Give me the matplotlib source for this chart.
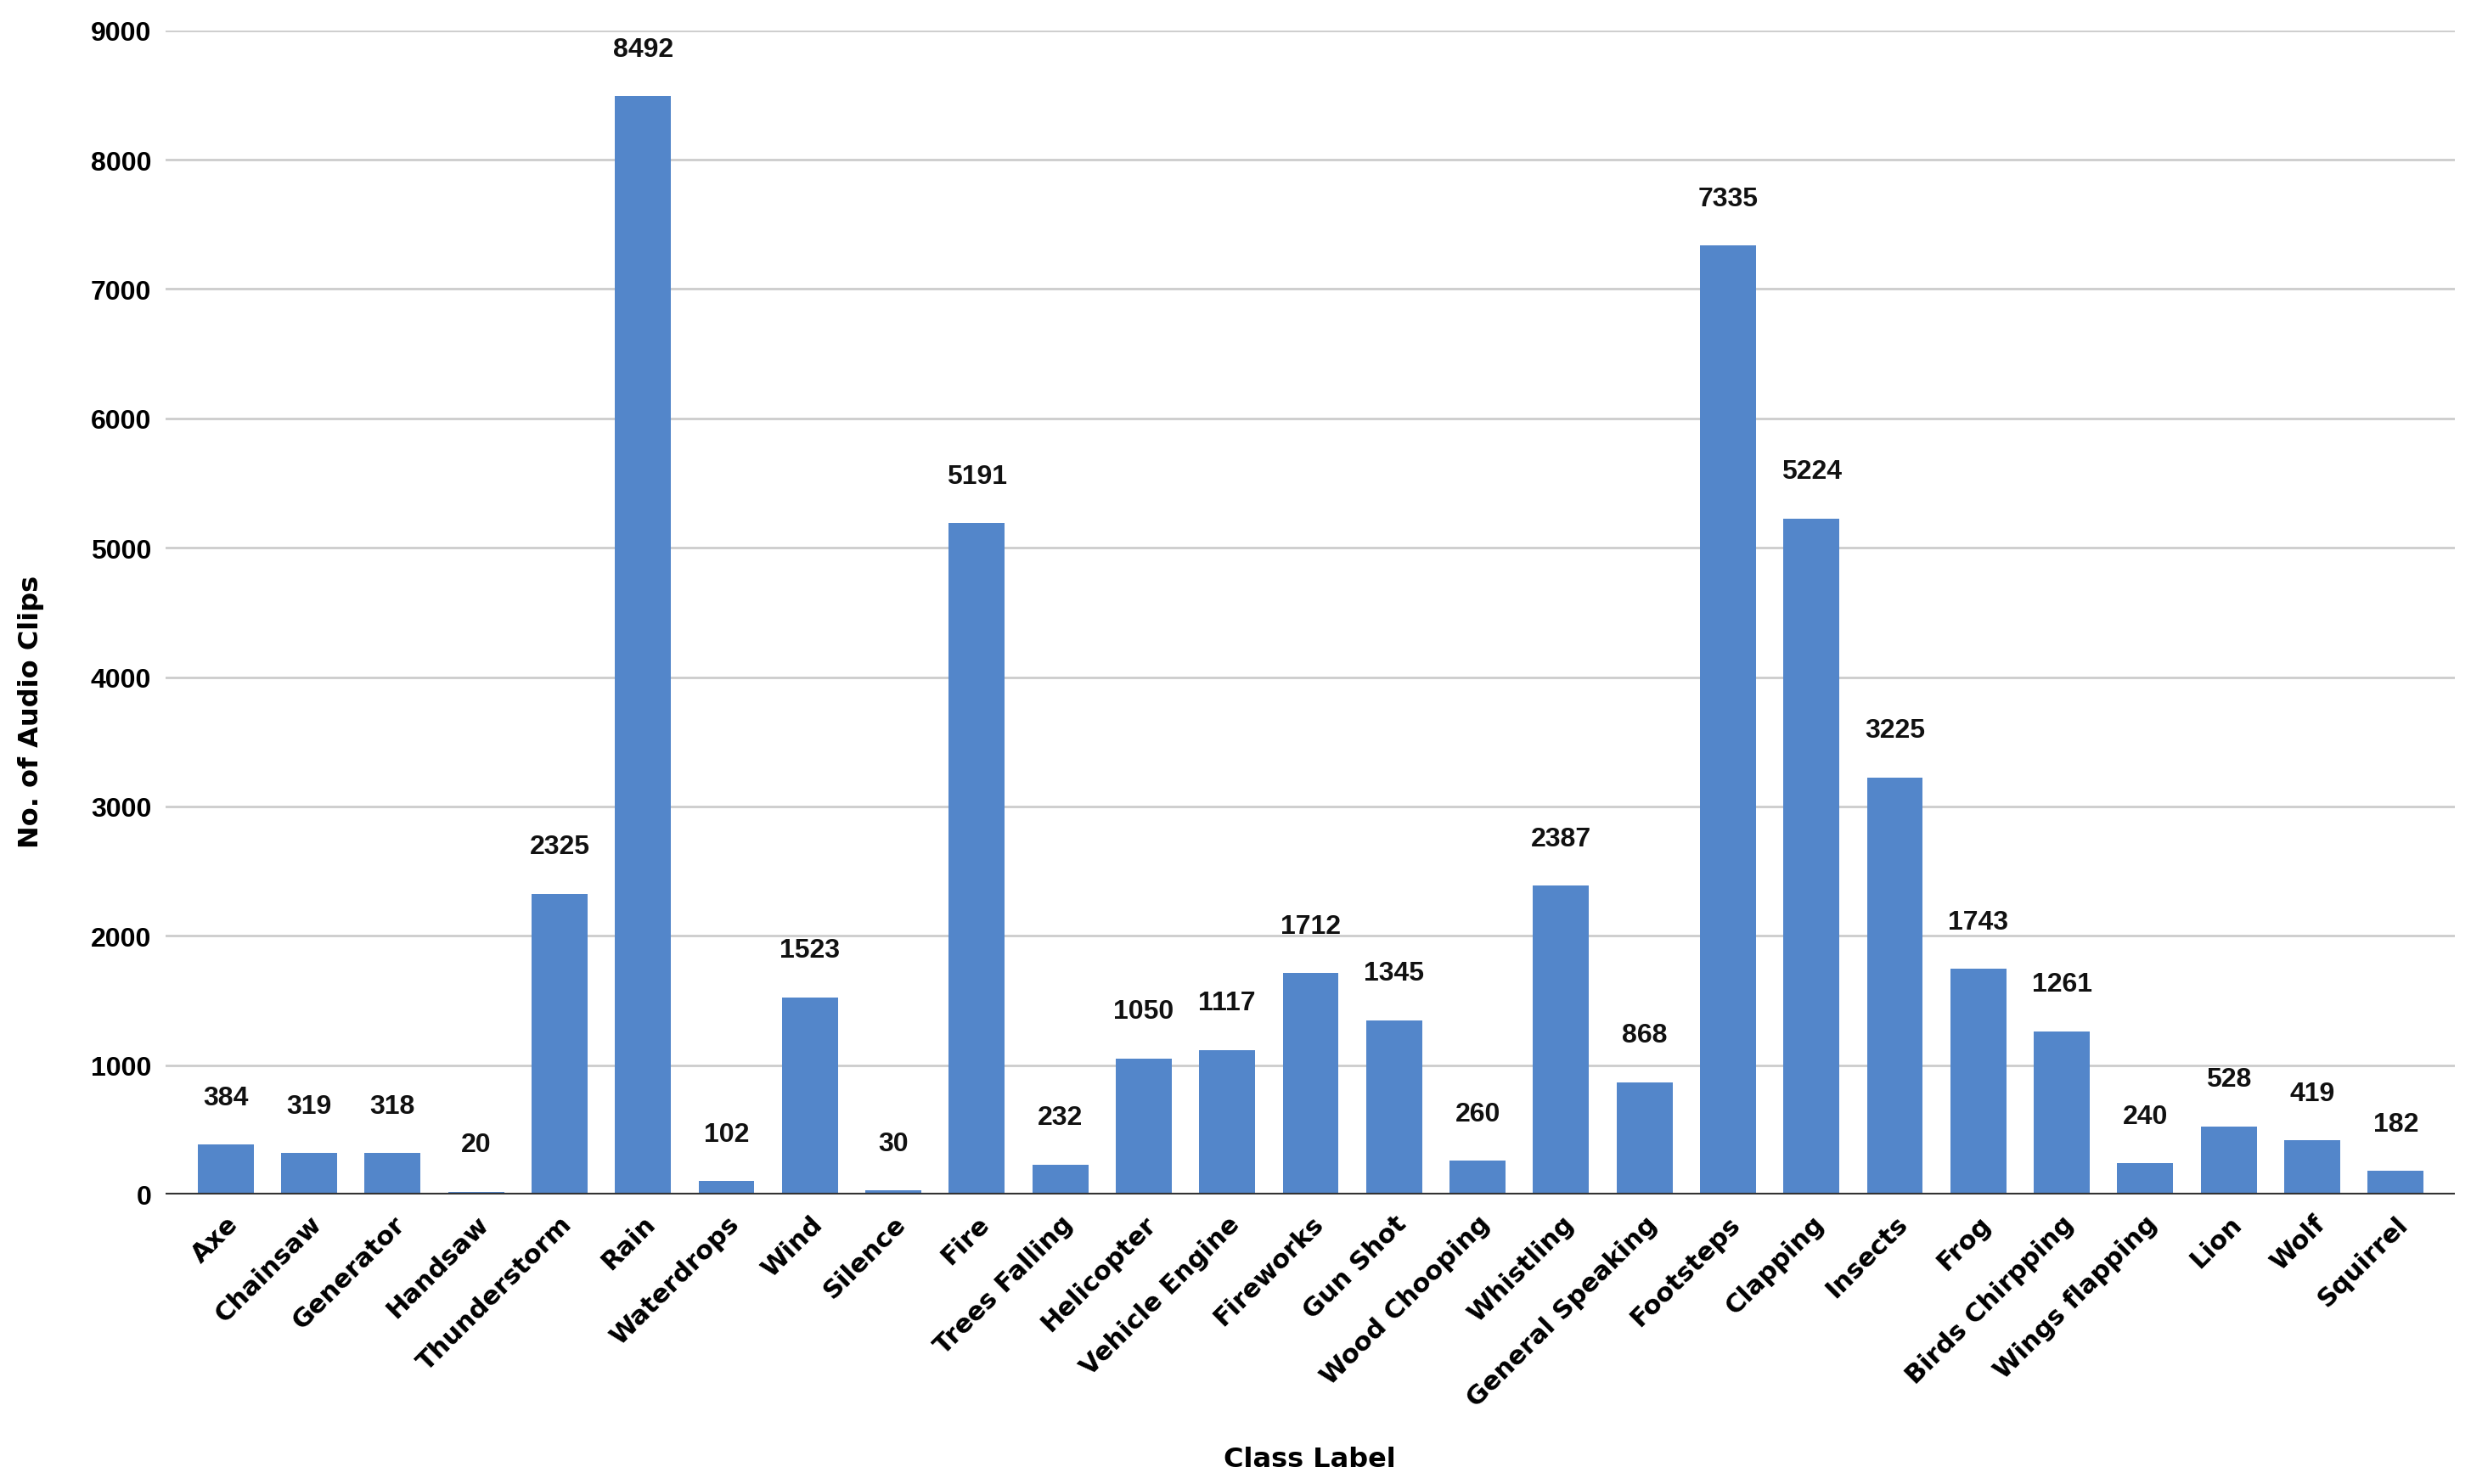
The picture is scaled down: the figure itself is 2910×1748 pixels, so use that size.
#!/usr/bin/env python3

import matplotlib
matplotlib.use("Agg")
import matplotlib.pyplot as plt

labels = ["Axe", "Chainsaw", "Generator", "Handsaw", "Thunderstorm", "Rain",
          "Waterdrops", "Wind", "Silence", "Fire", "Trees Falling", "Helicopter",
          "Vehicle Engine", "Fireworks", "Gun Shot", "Wood Chooping", "Whistling",
          "General Speaking", "Footsteps", "Clapping", "Insects", "Frog",
          "Birds Chirpping", "Wings flapping", "Lion", "Wolf", "Squirrel"]
counts = [384, 319, 318, 20, 2325, 8492, 102, 1523, 30, 5191, 232, 1050,
          1117, 1712, 1345, 260, 2387, 868, 7335, 5224, 3225, 1743, 1261,
          240, 528, 419, 182]
y_ticks = [0, 1000, 2000, 3000, 4000, 5000, 6000, 7000, 8000, 9000]

num_font = ["Liberation Sans", "DejaVu Sans"]

fig = plt.figure(figsize=(29.1, 17.49), dpi=100)
ax = fig.add_axes([0.067, 0.195, 0.9265, 0.784])

x = list(range(len(labels)))
ax.bar(x, counts, width=0.67, color="#5386ca", zorder=3)

# value labels above each bar
for xi, v in zip(x, counts):
    ax.annotate(str(v), (xi, v), xytext=(0, 40), textcoords="offset points",
                ha="center", va="center", fontsize=23, fontweight="bold",
                family=num_font, color="#111111")

ax.set_xlim(-0.72, len(labels) - 1 + 0.71)
ax.set_ylim(0, 9000)
ax.set_yticks(y_ticks)
ax.set_yticklabels([str(t) for t in y_ticks], fontsize=23, fontweight="bold",
                   family=num_font)
ax.yaxis.grid(True, color="#cccccc", linewidth=2, zorder=0)
ax.axhline(0, color="#333333", linewidth=3, zorder=4)

ax.set_xticks(x)
ax.set_xticklabels(labels, rotation=45, ha="right", rotation_mode="anchor",
                   fontsize=22, fontweight="bold")
ax.tick_params(axis="both", length=0)
ax.tick_params(axis="x", pad=14)
ax.tick_params(axis="y", pad=12)

for s in ax.spines.values():
    s.set_visible(False)

ax.set_ylabel("No. of Audio Clips", fontsize=23, fontweight="bold")
ax.yaxis.set_label_coords(-0.053, 0.415)
fig.text(0.53, 0.008, "Class Label", ha="center", va="bottom", fontsize=23,
         fontweight="bold")

fig.savefig("out.png", dpi=100, facecolor="white")
